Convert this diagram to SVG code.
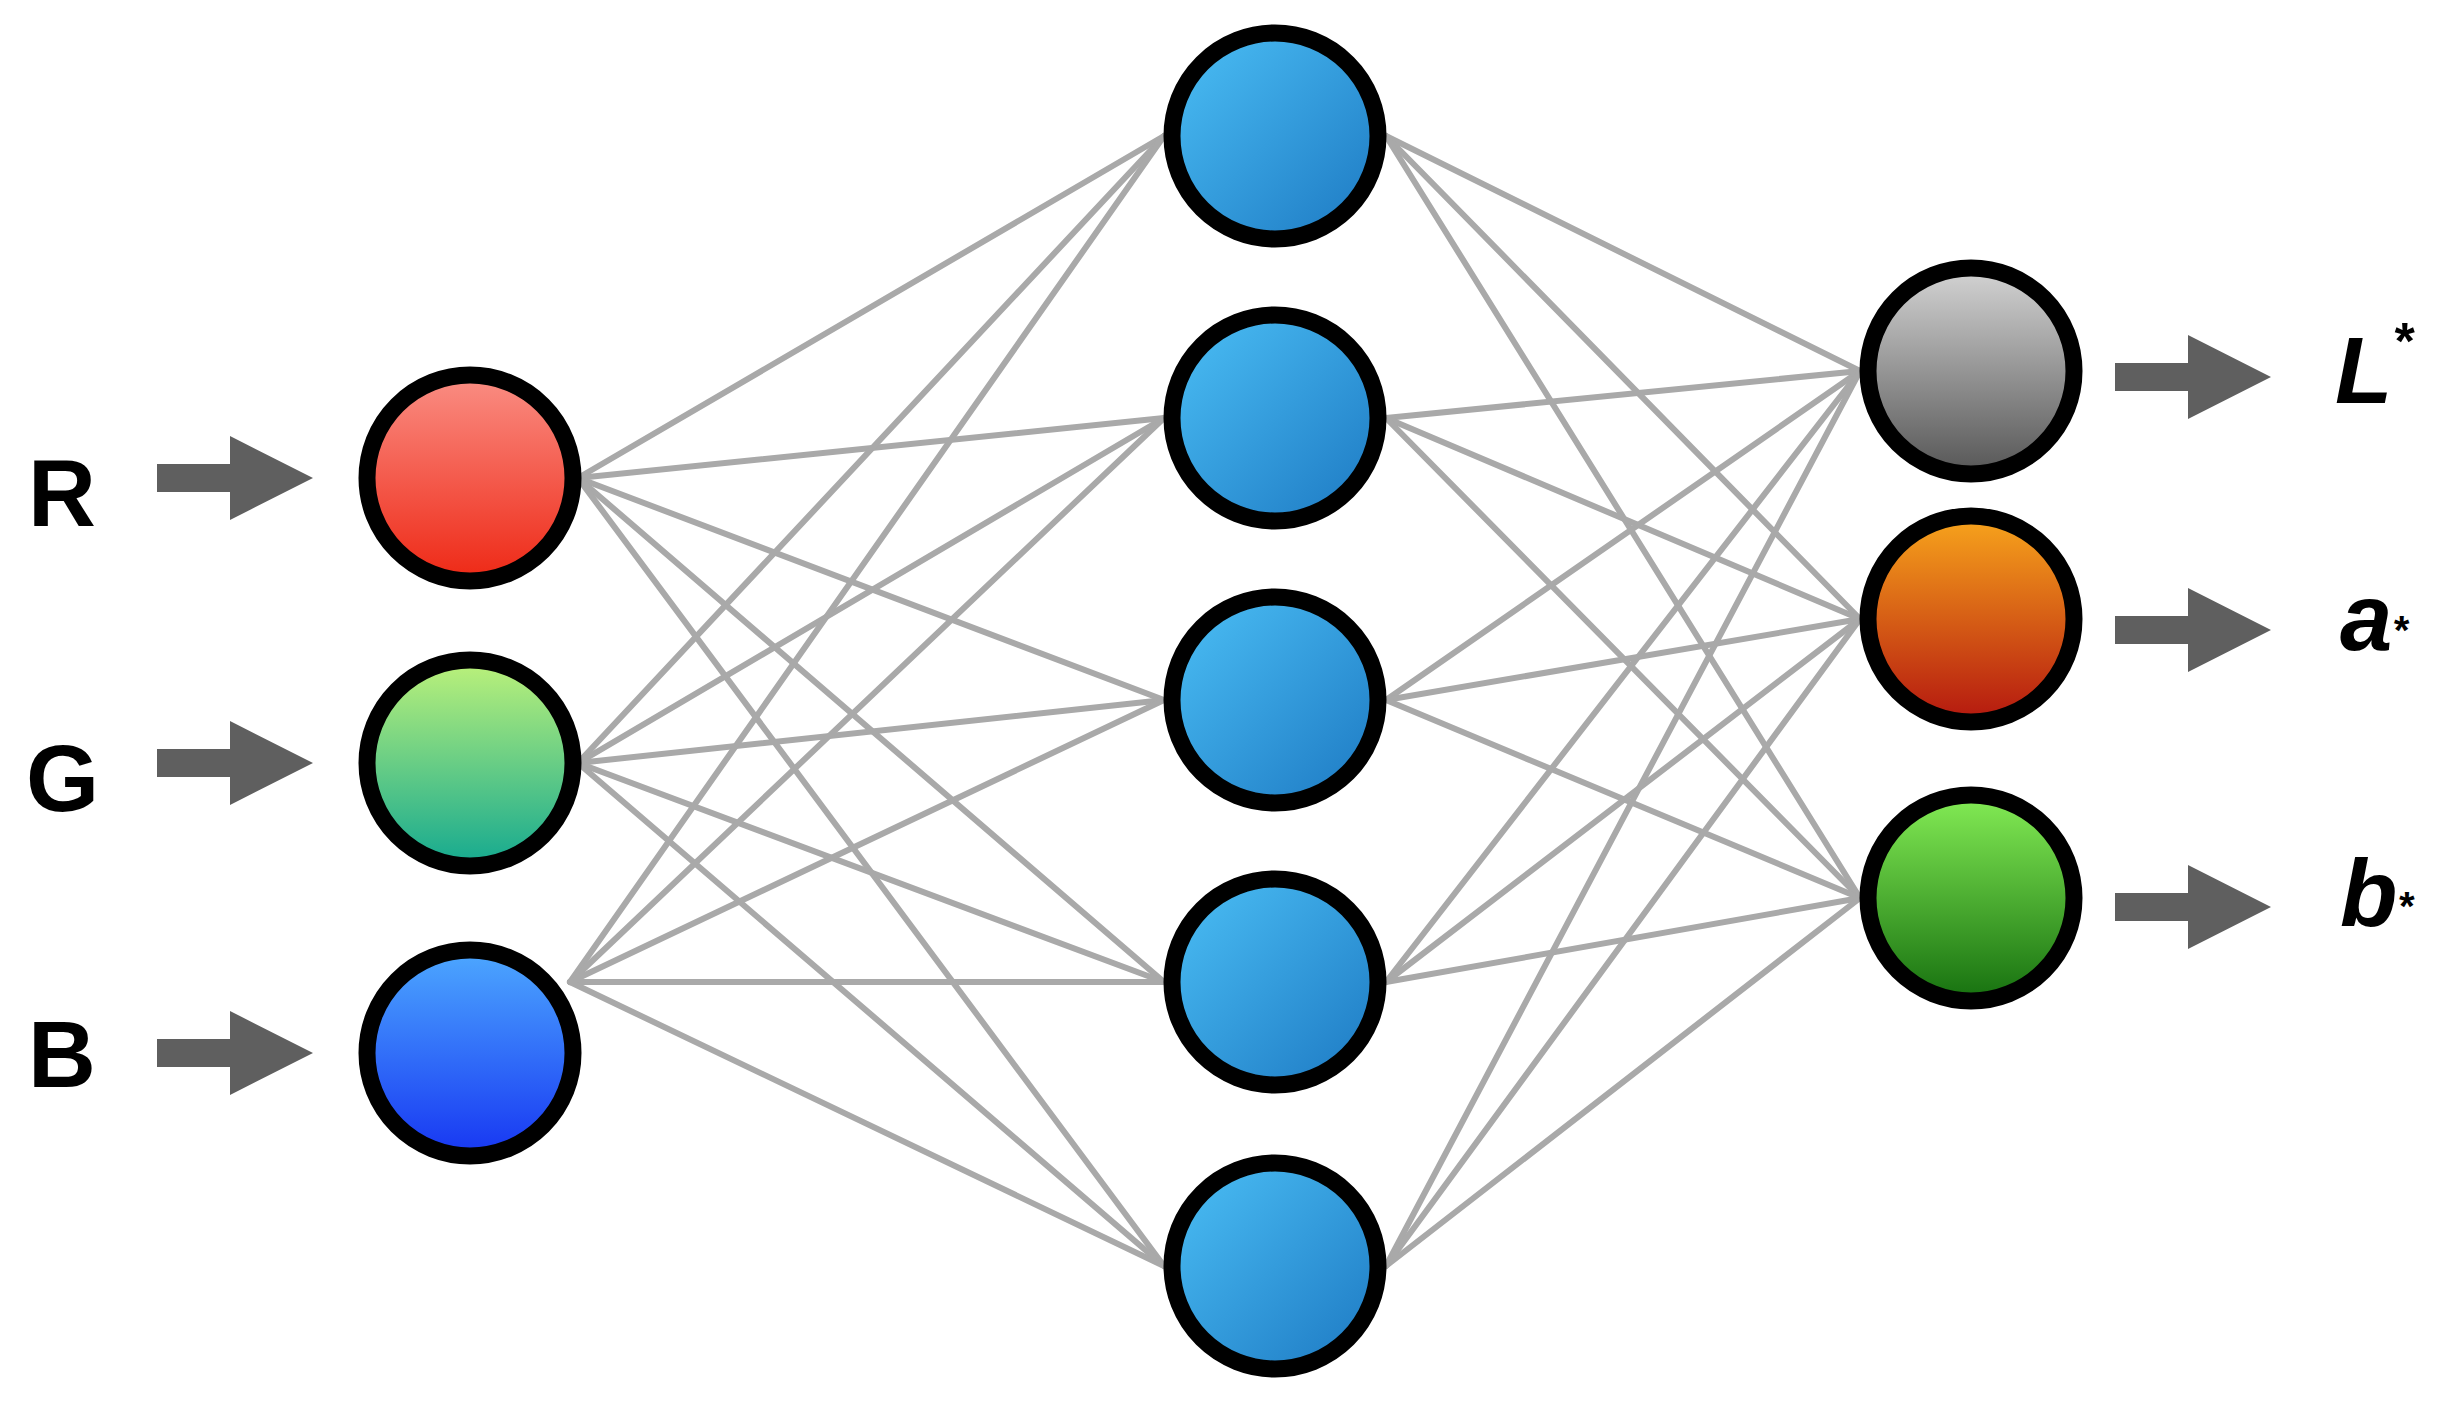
<svg xmlns="http://www.w3.org/2000/svg" width="2444" height="1405" viewBox="0 0 2444 1405">
<style>
.n{stroke:#000;stroke-width:17}
.c line{stroke:#a9a9a9;stroke-width:6;stroke-linecap:round}
.lab{font-family:"Liberation Sans",Arial,sans-serif;font-weight:bold;fill:#000}
.ar{fill:#5f5f5f}
</style>
<defs>
<linearGradient id="gR" x1="0" y1="0" x2="0" y2="1"><stop offset="0" stop-color="#fa8e84"/><stop offset="1" stop-color="#ee2815"/></linearGradient>
<linearGradient id="gG" x1="0" y1="0" x2="0" y2="1"><stop offset="0" stop-color="#bdf27a"/><stop offset="1" stop-color="#14a990"/></linearGradient>
<linearGradient id="gB" x1="0" y1="0" x2="0" y2="1"><stop offset="0" stop-color="#4da8ff"/><stop offset="1" stop-color="#1736f2"/></linearGradient>
<linearGradient id="gH" x1="0" y1="0" x2="1" y2="1"><stop offset="0" stop-color="#4cc0f6"/><stop offset="1" stop-color="#1c78c2"/></linearGradient>
<linearGradient id="gL" x1="0" y1="0" x2="0" y2="1"><stop offset="0" stop-color="#d4d4d4"/><stop offset="1" stop-color="#565656"/></linearGradient>
<linearGradient id="gA" x1="0" y1="0" x2="0" y2="1"><stop offset="0" stop-color="#f8a51c"/><stop offset="1" stop-color="#b4170f"/></linearGradient>
<linearGradient id="gBb" x1="0" y1="0" x2="0" y2="1"><stop offset="0" stop-color="#84ec55"/><stop offset="1" stop-color="#16700f"/></linearGradient>
</defs>
<g id="connectors" class="c">
<line x1="578" y1="478" x2="1164" y2="136"/><line x1="578" y1="478" x2="1164" y2="418"/><line x1="578" y1="478" x2="1164" y2="700"/><line x1="578" y1="478" x2="1164" y2="982"/><line x1="578" y1="478" x2="1164" y2="1266"/>
<line x1="578" y1="763" x2="1164" y2="136"/><line x1="578" y1="763" x2="1164" y2="418"/><line x1="578" y1="763" x2="1164" y2="700"/><line x1="578" y1="763" x2="1164" y2="982"/><line x1="578" y1="763" x2="1164" y2="1266"/>
<line x1="570" y1="982" x2="1164" y2="136"/><line x1="570" y1="982" x2="1164" y2="418"/><line x1="570" y1="982" x2="1164" y2="700"/><line x1="570" y1="982" x2="1164" y2="982"/><line x1="570" y1="982" x2="1164" y2="1266"/>
<line x1="1386" y1="136" x2="1860" y2="371"/><line x1="1386" y1="136" x2="1860" y2="619"/><line x1="1386" y1="136" x2="1860" y2="898"/>
<line x1="1386" y1="418" x2="1860" y2="371"/><line x1="1386" y1="418" x2="1860" y2="619"/><line x1="1386" y1="418" x2="1860" y2="898"/>
<line x1="1386" y1="700" x2="1860" y2="371"/><line x1="1386" y1="700" x2="1860" y2="619"/><line x1="1386" y1="700" x2="1860" y2="898"/>
<line x1="1386" y1="982" x2="1860" y2="371"/><line x1="1386" y1="982" x2="1860" y2="619"/><line x1="1386" y1="982" x2="1860" y2="898"/>
<line x1="1386" y1="1266" x2="1860" y2="371"/><line x1="1386" y1="1266" x2="1860" y2="619"/><line x1="1386" y1="1266" x2="1860" y2="898"/>
</g>
<g id="in-R"><text class="lab" x="28" y="526" font-size="94">R</text><path class="ar" d="M157 464h73v-28l83 42-83 42v-28h-73z"/><circle class="n" cx="470" cy="478" r="103" fill="url(#gR)"/></g>
<g id="in-G"><text class="lab" x="26" y="811" font-size="94">G</text><path class="ar" d="M157 749h73v-28l83 42-83 42v-28h-73z"/><circle class="n" cx="470" cy="763" r="103" fill="url(#gG)"/></g>
<g id="in-B"><text class="lab" x="28" y="1087" font-size="94">B</text><path class="ar" d="M157 1039h73v-28l83 42-83 42v-28h-73z"/><circle class="n" cx="470" cy="1053" r="103" fill="url(#gB)"/></g>
<g id="h1"><circle class="n" cx="1275" cy="136" r="103" fill="url(#gH)"/></g>
<g id="h2"><circle class="n" cx="1275" cy="418" r="103" fill="url(#gH)"/></g>
<g id="h3"><circle class="n" cx="1275" cy="700" r="103" fill="url(#gH)"/></g>
<g id="h4"><circle class="n" cx="1275" cy="982" r="103" fill="url(#gH)"/></g>
<g id="h5"><circle class="n" cx="1275" cy="1266" r="103" fill="url(#gH)"/></g>
<g id="out-L"><circle class="n" cx="1971" cy="371" r="103" fill="url(#gL)"/><path class="ar" d="M2115 363h73v-28l83 42-83 42v-28h-73z"/><text class="lab" x="2335" y="403" font-size="94" font-style="italic">L<tspan font-size="52" dy="-44">*</tspan></text></g>
<g id="out-a"><circle class="n" cx="1971" cy="619" r="103" fill="url(#gA)"/><path class="ar" d="M2115 616h73v-28l83 42-83 42v-28h-73z"/><text class="lab" x="2340" y="650" font-size="94" font-style="italic">a<tspan font-size="40" dy="-6">*</tspan></text></g>
<g id="out-b"><circle class="n" cx="1971" cy="898" r="103" fill="url(#gBb)"/><path class="ar" d="M2115 893h73v-28l83 42-83 42v-28h-73z"/><text class="lab" x="2340" y="926" font-size="94" font-style="italic">b<tspan font-size="40" dy="-6">*</tspan></text></g>
</svg>
